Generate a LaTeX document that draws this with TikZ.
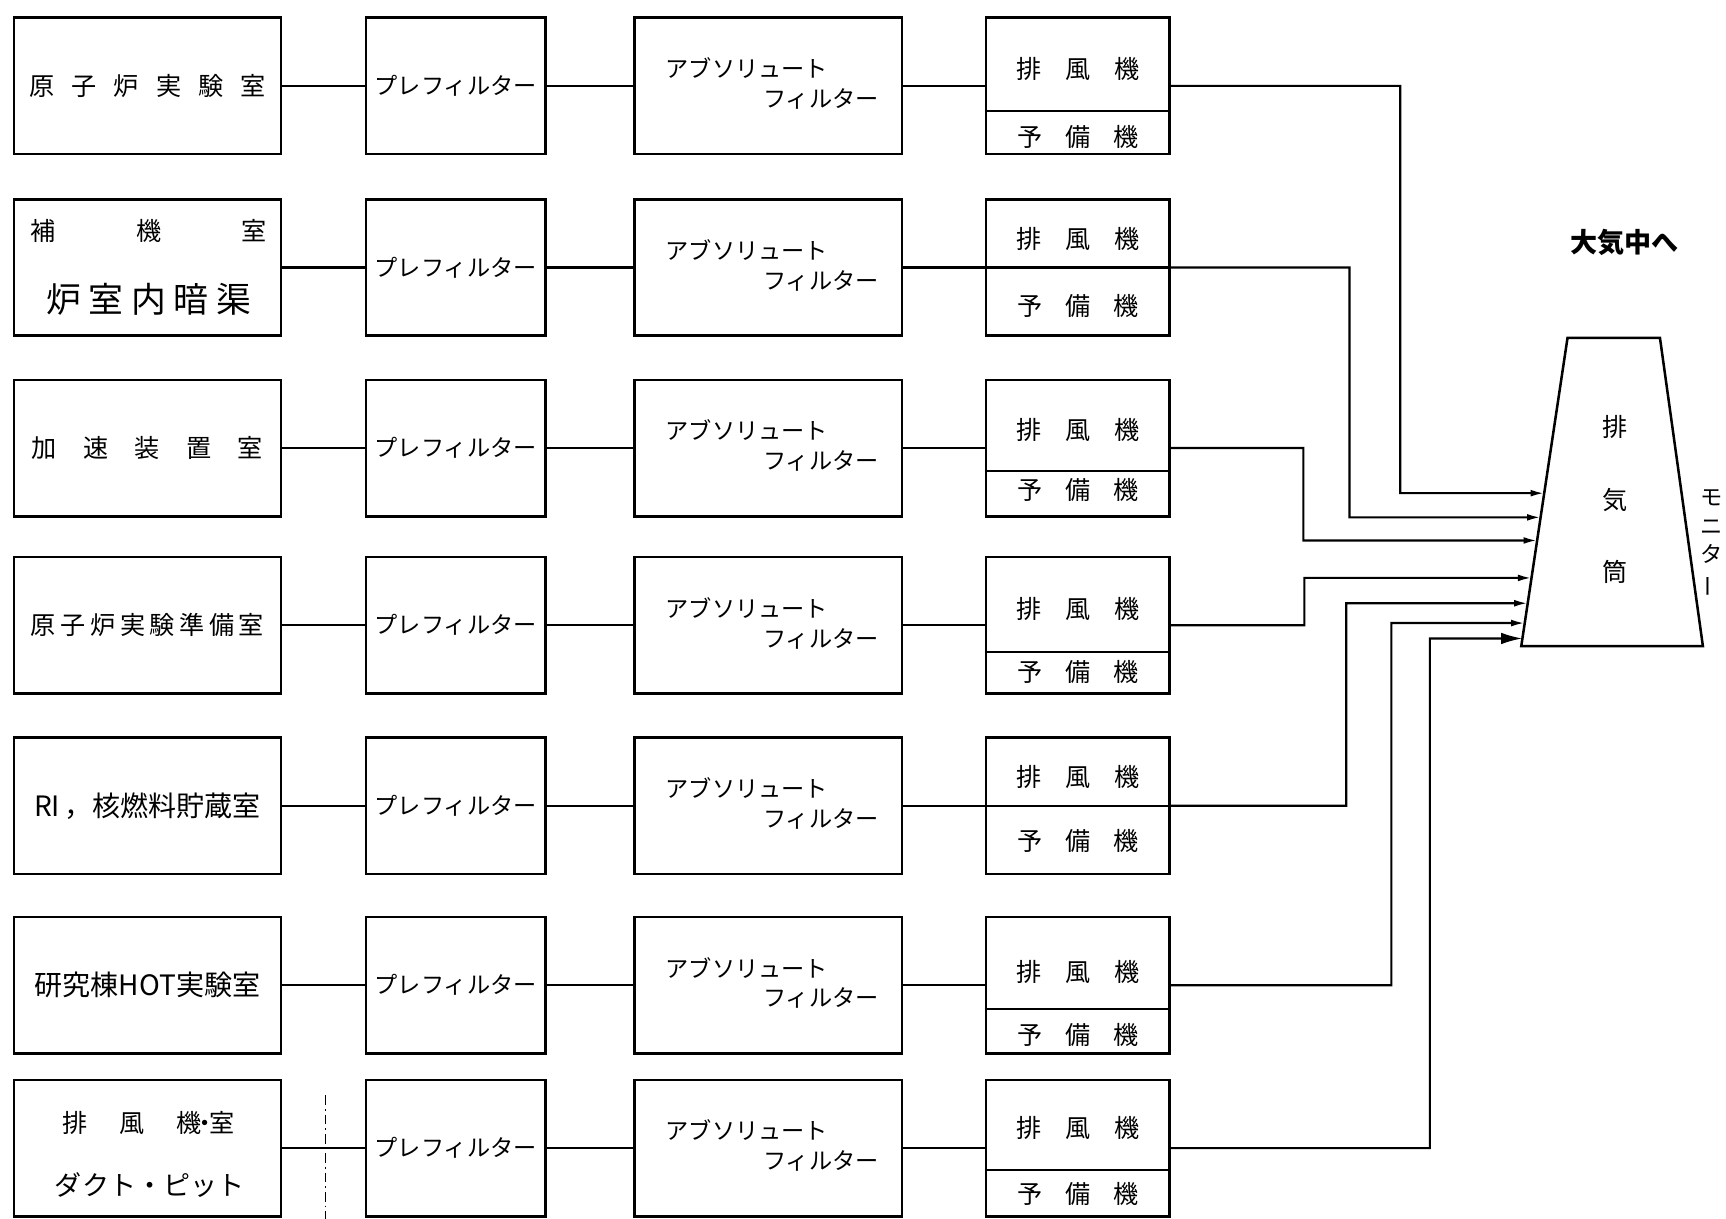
\documentclass[tikz,border=0pt]{standalone}
\usepackage{fontspec}
\setmainfont{Noto Sans CJK JP}
\usepackage{graphicx}
\usetikzlibrary{arrows.meta, calc}

\newcommand{\spreadtext}[2]{\makebox[#1][s]{#2}}

\begin{document}
\begin{tikzpicture}[x=0.02cm, y=-0.02cm,
    every node/.style={font=\fontsize{13}{15}\selectfont, inner sep=0pt},
    room/.style={draw, line width=1.3pt, minimum width=4.86cm, minimum height=2.48cm},
    prefilter/.style={draw, line width=1.3pt, minimum width=3.26cm, minimum height=2.48cm, font=\fontsize{12}{14}\selectfont},
    absfilter/.style={draw, line width=1.3pt, minimum width=4.86cm, minimum height=2.48cm},
    fanbox/.style={draw, line width=1.3pt, minimum width=3.34cm, minimum height=2.48cm},
    kana/.style={font=\fontsize{12}{14}\selectfont},
    duct/.style={line width=1.1pt},
    flow/.style={line width=1.1pt, -{Latex[length=7pt, width=3.5pt]}}
]
    \useasboundingbox (0,0) rectangle (1568,1107);

    % Draw the rooms
    \node[room] (room1) at (134,78) {\spreadtext{4.3cm}{原 子 炉 実 験 室}};
    \node[room] (room2) at (134,243) {};
    \node (room2a) at ($(room2)+(1,-33)$) {\spreadtext{4.28cm}{補 機 室}};
    \node[font=\fontsize{18}{20}\selectfont] (room2b) at ($(room2)+(1,29)$) {\spreadtext{3.72cm}{炉 室 内 暗 渠}};
    \node[room] (room3) at (134,407) {\spreadtext{4.2cm}{加 速 装 置 室}};
    \node[room] (room4) at (134,568) {\spreadtext{4.24cm}{原 子 炉 実 験 準 備 室}};
    \node[room, font=\fontsize{14.5}{16}\selectfont] (room5) at (134,732) {RI\,，核燃料貯蔵室};
    \node[room, font=\fontsize{14.5}{16}\selectfont] (room6) at (134,895) {研究棟HOT実験室};
    \node[room] (room7) at (134,1043) {};
    \node (room7a) at ($(room7)+(1,-23)$) {\spreadtext{3.12cm}{排 風 機\kern-.35em・\kern-.35em室}};
    \node[font=\fontsize{14}{16}\selectfont] (room7b) at ($(room7)+(2,34)$) {ダクト・ピット};

    % Draw the filters and the fans of each line
    \foreach \i/\yc/\dv/\tu/\tl in {1/78/23/-15/46, 2/243/0/-26/35, 3/407/21/-16/38,
        4/568/24/-15/42, 5/732/0/-26/32, 6/895/22/-12/45, 7/1043/20/-18/42} {
        \node[prefilter] (pre\i) at (414,\yc) {プレフィルター};
        \node[absfilter] (abs\i) at (698,\yc) {};
        \node[kana, anchor=west] (absa\i) at ($(abs\i.west)+(29,-16)$) {アブソリュート};
        \node[kana, anchor=east] (absb\i) at ($(abs\i.east)+(-22,12)$) {フィルター};
        \node[fanbox] (fan\i) at (979,\yc) {};
        \draw[line width=1.1pt] ($(fan\i.west)+(0,\dv)$) -- ($(fan\i.east)+(0,\dv)$);
        \node (fanu\i) at ($(fan\i)+(0,\tu)$) {\spreadtext{2.24cm}{排 風 機}};
        \node (fanl\i) at ($(fan\i)+(0,\tl)$) {\spreadtext{2.2cm}{予 備 機}};
        \draw[duct] (room\i) -- (pre\i) -- (abs\i) -- (fan\i);
    }

    % Draw the wall line
    \draw[line width=0.6pt, dash pattern=on 5pt off 2pt on 1pt off 2pt] (296,995) -- (296,1107);

    % Draw the stack
    \coordinate (ctl) at (1424,307);
    \coordinate (ctr) at (1508,307);
    \coordinate (cbr) at (1547,587);
    \coordinate (cbl) at (1382,587);
    \draw[line width=1.3pt] (ctl) -- (ctr) -- (cbr) -- (cbl) -- cycle;
    \node[align=center, font=\fontsize{13}{37.5}\selectfont] (stack) at (1467,454) {排\\気\\筒};
    \node[font=\fontsize{14}{16}\selectfont\bfseries] (air) at (1476,220) {大気中へ};
    \node[align=center, font=\fontsize{11.5}{14.7}\selectfont] (monitor) at (1555,494)
        {モ\\ニ\\タ\\\rotatebox[origin=c]{90}{ー}};

    % Draw the inlets of the stack
    \coordinate (in1) at ($(ctl)!0.5036!(cbl)$);
    \coordinate (in2) at ($(ctl)!0.5821!(cbl)$);
    \coordinate (in3) at ($(ctl)!0.6571!(cbl)$);
    \coordinate (in4) at ($(ctl)!0.7786!(cbl)$);
    \coordinate (in5) at ($(ctl)!0.8607!(cbl)$);
    \coordinate (in6) at ($(ctl)!0.9250!(cbl)$);
    \coordinate (in7) at ($(ctl)!0.9750!(cbl)$);

    % Draw the ducts to the stack
    \draw[flow] (fan1.east) -| (1272,448) -- (in1);
    \draw[flow] (fan2.east) -| (1226,470) -- (in2);
    \draw[flow] (fan3.east) -| (1184,491) -- (in3);
    \draw[flow] (fan4.east) -| (1185,525) -- (in4);
    \draw[flow] (fan5.east) -| (1223,548) -- (in5);
    \draw[flow] (fan6.east) -| (1264,566) -- (in6);
    \draw[line width=1.1pt, -{Latex[length=11pt, width=6pt]}] (fan7.east) -| (1299,580) -- (in7);
\end{tikzpicture}
\end{document}
